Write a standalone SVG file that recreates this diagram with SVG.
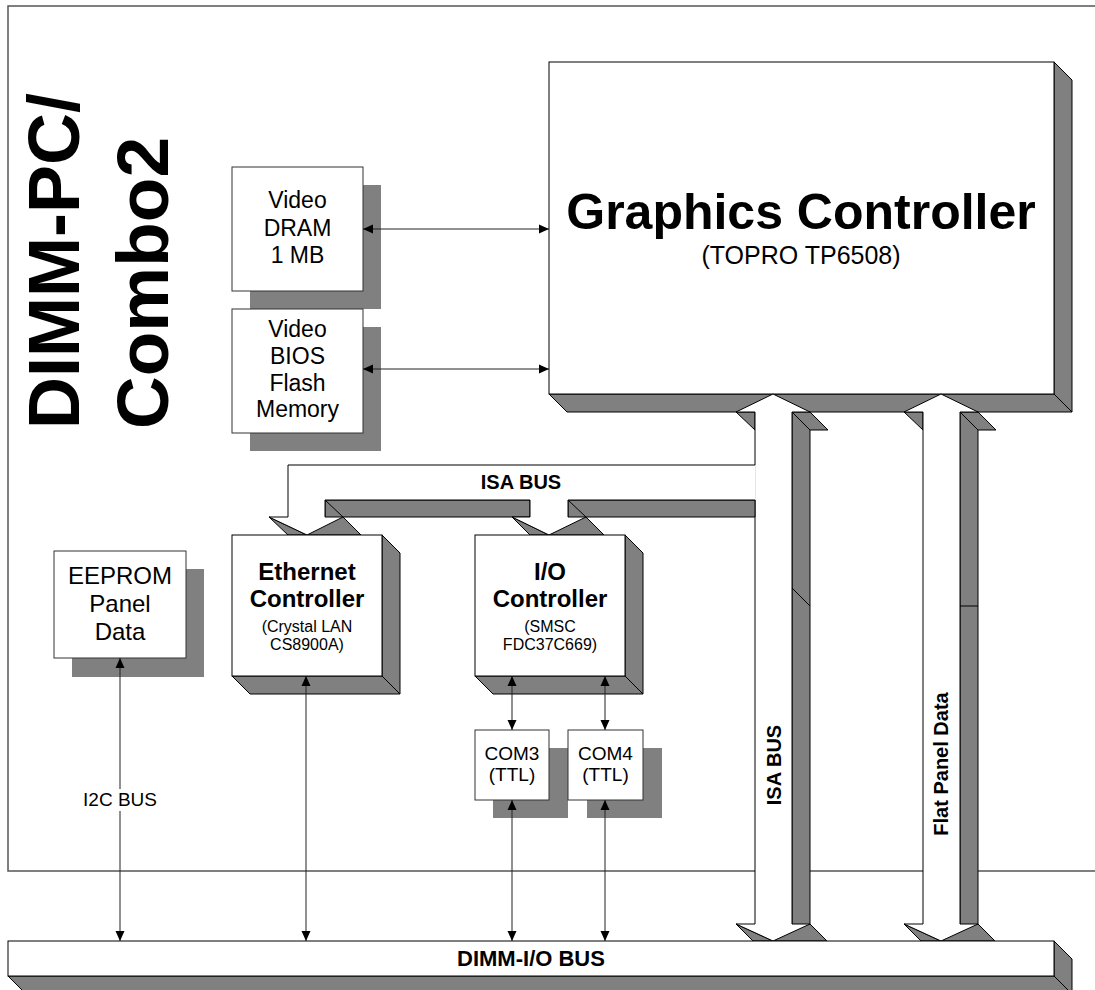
<svg xmlns="http://www.w3.org/2000/svg" width="1095" height="990" viewBox="0 0 1095 990">
<defs>
<marker id="ah" viewBox="0 0 10 10" refX="10" refY="5" markerWidth="10" markerHeight="10" markerUnits="userSpaceOnUse" orient="auto-start-reverse"><path d="M0,0.5 L10,5 L0,9.5 z" fill="#000"/></marker>
<style>
.f{fill:#fff;stroke:#000;stroke-width:1}
.nf{fill:#fff;stroke:none}
.ol{fill:none;stroke:#000;stroke-width:1}
.g{fill:#808080;stroke:#000;stroke-width:1;stroke-linejoin:miter}
.sh{fill:#808080}
.b{fill:#fff;stroke:#333;stroke-width:1}
.t{font-family:"Liberation Sans",Arial,sans-serif;fill:#000;text-anchor:middle}
.bd{font-weight:bold}
.c{stroke:#222;stroke-width:1;fill:none;marker-start:url(#ah);marker-end:url(#ah)}
</style>
</defs>
<rect x="0" y="0" width="1095" height="990" fill="#fff"/>
<rect id="border" x="8" y="6" width="1100" height="865" fill="none" stroke="#555" stroke-width="1.5"/>

<g id="title">
<text class="t bd" style="text-anchor:start" font-size="72" transform="translate(79,429) rotate(-90)">DIMM-PC/</text>
<text class="t bd" style="text-anchor:start" font-size="73" transform="translate(168,429) rotate(-90)">Combo2</text>
</g>

<g id="graphics-controller">
<polygon class="g" points="1054,62 1072,80 1072,412 1054,394"/>
<polygon class="g" points="549,394 1054,394 1072,412 567,412"/>
<rect class="f" x="549" y="62" width="505" height="332"/>
<text class="t bd" x="801" y="229" font-size="50">Graphics Controller</text>
<text class="t" x="801" y="264" font-size="25">(TOPRO TP6508)</text>
</g>

<g id="isa-bus-vertical">
<polygon class="g" points="736,412 755,412 755,430"/>
<polygon class="g" points="792,412 810,412 828,430 810,430 810,924 827,941 773,941 792,924"/>
<polygon class="g" points="736,924 773,941 753,941"/>
<line class="ol" x1="792" y1="412" x2="810" y2="430"/>
<line class="ol" x1="792" y1="588" x2="810" y2="606"/>
<polygon class="f" points="773,394 810,412 792,412 792,924 810,924 773,941 736,924 755,924 755,412 736,412"/>
<text class="t bd" font-size="20" transform="translate(781,765) rotate(-90)">ISA BUS</text>
</g>

<g id="flat-panel-data">
<polygon class="g" points="904,412 923,412 923,430"/>
<polygon class="g" points="960,412 978,412 996,430 978,430 978,924 995,941 941,941 960,924"/>
<polygon class="g" points="904,924 941,941 921,941"/>
<line class="ol" x1="960" y1="412" x2="978" y2="430"/>
<line class="ol" x1="960" y1="606" x2="978" y2="606"/>
<polygon class="f" points="941,394 978,412 960,412 960,924 978,924 941,941 904,924 923,924 923,412 904,412"/>
<text class="t bd" font-size="20" transform="translate(948,764) rotate(-90)">Flat Panel Data</text>
</g>

<g id="isa-bus-horizontal">
<polygon class="g" points="269,517 288,535 307,535"/>
<polygon class="g" points="325,500 530,500 530,517 343,517 361,535 307,535 325,517"/>
<line class="ol" x1="325" y1="500" x2="343" y2="517"/>
<polygon class="g" points="512,517 530,535 549,535"/>
<polygon class="g" points="568,500 755,500 755,517 586,517 604,535 549,535 568,517"/>
<line class="ol" x1="568" y1="500" x2="586" y2="517"/>
<polygon class="nf" points="755.8,465 288,465 288,517 269,517 307,535 343,517 325,517 325,500 530,500 530,517 512,517 549,535 586,517 568,517 568,500 755.8,500"/>
<polyline class="ol" points="755,465 288,465 288,517 269,517 307,535 343,517 325,517 325,500 530,500 530,517 512,517 549,535 586,517 568,517 568,500 755,500"/>
<text class="t bd" x="521" y="489" font-size="20">ISA BUS</text>
</g>

<g id="video-dram">
<rect class="sh" x="250" y="185" width="131" height="124"/>
<rect class="b" x="232" y="167" width="131" height="124"/>
<text class="t" x="297.5" y="208" font-size="23">Video</text>
<text class="t" x="297.5" y="235.5" font-size="23">DRAM</text>
<text class="t" x="297.5" y="263" font-size="23">1 MB</text>
</g>

<g id="video-bios">
<rect class="sh" x="250" y="327" width="131" height="124"/>
<rect class="b" x="232" y="309" width="131" height="124"/>
<text class="t" x="297.5" y="337" font-size="23">Video</text>
<text class="t" x="297.5" y="363.5" font-size="23">BIOS</text>
<text class="t" x="297.5" y="390.5" font-size="23">Flash</text>
<text class="t" x="297.5" y="417" font-size="23">Memory</text>
</g>

<g id="eeprom">
<rect class="sh" x="72" y="569" width="132" height="108"/>
<rect class="b" x="54" y="551" width="132" height="107"/>
<text class="t" x="120" y="584" font-size="24">EEPROM</text>
<text class="t" x="120" y="612" font-size="24">Panel</text>
<text class="t" x="120" y="640" font-size="24">Data</text>
</g>

<g id="ethernet-controller">
<polygon class="g" points="382,535 400,553 400,694 382,676"/>
<polygon class="g" points="232,676 382,676 400,694 250,694"/>
<rect class="f" x="232" y="535" width="150" height="141"/>
<text class="t bd" x="307" y="580" font-size="24">Ethernet</text>
<text class="t bd" x="307" y="607" font-size="24">Controller</text>
<text class="t" x="307" y="632" font-size="16">(Crystal LAN</text>
<text class="t" x="307" y="650" font-size="16">CS8900A)</text>
</g>

<g id="io-controller">
<polygon class="g" points="625,535 643,553 643,694 625,676"/>
<polygon class="g" points="475,676 625,676 643,694 493,694"/>
<rect class="f" x="475" y="535" width="150" height="141"/>
<text class="t bd" x="550" y="580" font-size="24">I/O</text>
<text class="t bd" x="550" y="607" font-size="24">Controller</text>
<text class="t" x="550" y="632" font-size="16">(SMSC</text>
<text class="t" x="550" y="650" font-size="16">FDC37C669)</text>
</g>

<g id="com3">
<rect class="sh" x="493" y="748" width="75" height="70"/>
<rect class="b" x="475" y="730" width="74" height="70"/>
<text class="t" x="512" y="760" font-size="19">COM3</text>
<text class="t" x="512" y="781" font-size="19">(TTL)</text>
</g>

<g id="com4">
<rect class="sh" x="587" y="748" width="75" height="70"/>
<rect class="b" x="568" y="730" width="75" height="70"/>
<text class="t" x="605.5" y="760" font-size="19">COM4</text>
<text class="t" x="605.5" y="781" font-size="19">(TTL)</text>
</g>

<g id="dimm-io-bus">
<polygon class="g" points="1054,941 1072,959 1072,994 1054,976"/>
<polygon class="g" points="8,976 1054,976 1072,994 26,994"/>
<rect class="f" x="8" y="941" width="1046" height="35"/>
<text class="t bd" x="531" y="966" font-size="22">DIMM-I/O BUS</text>
</g>

<g id="connectors">
<line class="c" x1="363" y1="229" x2="549" y2="229"/>
<line class="c" x1="363" y1="369" x2="549" y2="369"/>
<line class="c" x1="120" y1="658" x2="120" y2="941"/>
<rect x="80" y="789" width="80" height="22" fill="#fff"/>
<text class="t" x="120" y="806" font-size="19">I2C BUS</text>
<line class="c" x1="306" y1="676" x2="306" y2="941"/>
<line class="c" x1="512" y1="676" x2="512" y2="730"/>
<line class="c" x1="605" y1="676" x2="605" y2="730"/>
<line class="c" x1="512" y1="800" x2="512" y2="941"/>
<line class="c" x1="605" y1="800" x2="605" y2="941"/>
</g>
</svg>
